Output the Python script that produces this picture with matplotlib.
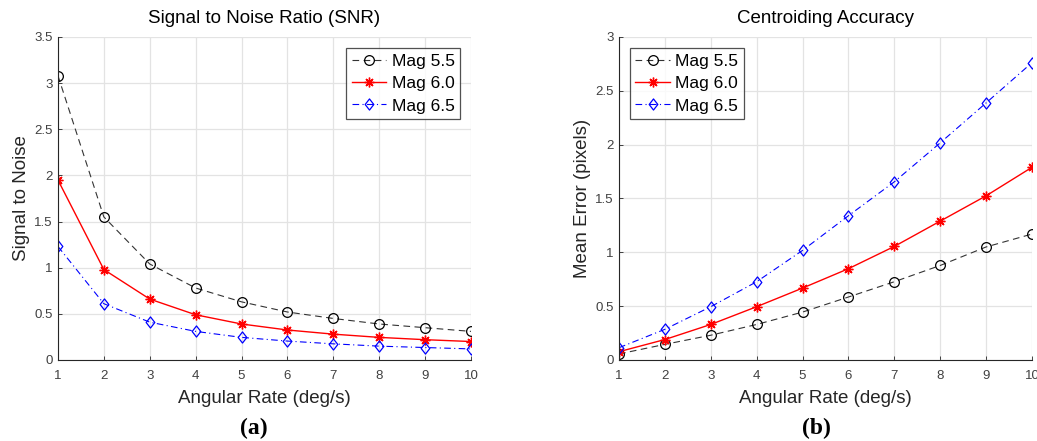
import matplotlib
matplotlib.use("Agg")
import matplotlib.pyplot as plt
from matplotlib.path import Path

rate = [1, 2, 3, 4, 5, 6, 7, 8, 9, 10]

snr_mag55 = [3.08, 1.55, 1.04, 0.78, 0.63, 0.52, 0.45, 0.39, 0.35, 0.31]
snr_mag60 = [1.95, 0.98, 0.66, 0.49, 0.39, 0.325, 0.28, 0.245, 0.22, 0.20]
snr_mag65 = [1.23, 0.61, 0.41, 0.31, 0.245, 0.205, 0.175, 0.15, 0.135, 0.12]

err_mag55 = [0.056, 0.145, 0.23, 0.33, 0.445, 0.585, 0.727, 0.878, 1.05, 1.17]
err_mag60 = [0.077, 0.19, 0.33, 0.495, 0.668, 0.848, 1.055, 1.29, 1.525, 1.79]
err_mag65 = [0.114, 0.285, 0.495, 0.727, 1.018, 1.34, 1.655, 2.017, 2.388, 2.762]

labels = ["Mag 5.5", "Mag 6.0", "Mag 6.5"]

plt.rcParams["font.family"] = ["Liberation Sans", "DejaVu Sans"]

fig = plt.figure(figsize=(10.37, 4.41), dpi=100)
ax1 = fig.add_axes([0.0559, 0.1837, 0.3983, 0.7324])
ax2 = fig.add_axes([0.5969, 0.1837, 0.3983, 0.7324])

asterisk = (8, 2, 0)
diamond = Path([(0, 1), (0.78, 0), (0, -1), (-0.78, 0), (0, 1)],
               [Path.MOVETO, Path.LINETO, Path.LINETO, Path.LINETO, Path.CLOSEPOLY])


def draw(ax, s55, s60, s65):
    ax.plot(rate, s55, color="#333333", linestyle=(0, (6, 4)), linewidth=0.8,
            marker="o", markersize=7, markerfacecolor="none",
            markeredgecolor="black", markeredgewidth=0.9, label=labels[0])
    ax.plot(rate, s60, color="#ff0000", linestyle="-", linewidth=1.0,
            marker=asterisk, markersize=7, markeredgecolor="#ff0000",
            markeredgewidth=1.0, label=labels[1])
    ax.plot(rate, s65, color="#0000ff", linestyle=(0, (6, 3, 1, 3)), linewidth=0.8,
            marker=diamond, markersize=8, markerfacecolor="none",
            markeredgecolor="#0000ff", markeredgewidth=0.9, label=labels[2])


draw(ax1, snr_mag55, snr_mag60, snr_mag65)
draw(ax2, err_mag55, err_mag60, err_mag65)

settings = [
    (ax1, "Signal to Noise Ratio (SNR)", "Signal to Noise", (0, 3.5),
     [0, 0.5, 1, 1.5, 2, 2.5, 3, 3.5], ["0", "0.5", "1", "1.5", "2", "2.5", "3", "3.5"],
     "upper right"),
    (ax2, "Centroiding Accuracy", "Mean Error (pixels)", (0, 3),
     [0, 0.5, 1, 1.5, 2, 2.5, 3], ["0", "0.5", "1", "1.5", "2", "2.5", "3"],
     "upper left"),
]

for ax, title, ylabel, ylim, yt, ytl, loc in settings:
    ax.set_xlim(1, 10)
    ax.set_ylim(*ylim)
    ax.set_xticks(rate)
    ax.set_xticklabels([str(r) for r in rate])
    ax.set_yticks(yt)
    ax.set_yticklabels(ytl)
    ax.set_title(title, fontsize=13.5, color="black", pad=10)
    ax.set_xlabel("Angular Rate (deg/s)", fontsize=13.5, color="#262626", labelpad=6)
    ax.set_ylabel(ylabel, fontsize=13.5, color="#262626", labelpad=3)
    ax.grid(True, color="#e3e3e3", linewidth=0.9)
    ax.set_axisbelow(True)
    for side in ("top", "right"):
        ax.spines[side].set_visible(False)
    for side in ("left", "bottom"):
        ax.spines[side].set_color("#262626")
        ax.spines[side].set_linewidth(0.8)
    ax.tick_params(axis="x", pad=7)
    ax.tick_params(axis="y", pad=4)
    ax.tick_params(direction="in", length=3, width=0.6, colors="#262626",
                   labelsize=9.5, labelcolor="#404040")
    leg = ax.legend(loc=loc, fontsize=12.5, frameon=True, fancybox=False,
                    borderpad=0.3, handlelength=2.0, handletextpad=0.3,
                    labelspacing=0.42, borderaxespad=0.65)
    leg.get_frame().set_edgecolor("#262626")
    leg.get_frame().set_linewidth(0.9)

fig.text(0.245, 0.028, "(a)", fontsize=17, fontweight="bold",
         family=["Liberation Serif", "DejaVu Serif"], ha="center", va="center")
fig.text(0.787, 0.028, "(b)", fontsize=17, fontweight="bold",
         family=["Liberation Serif", "DejaVu Serif"], ha="center", va="center")

fig.savefig("out.png", dpi=100)
